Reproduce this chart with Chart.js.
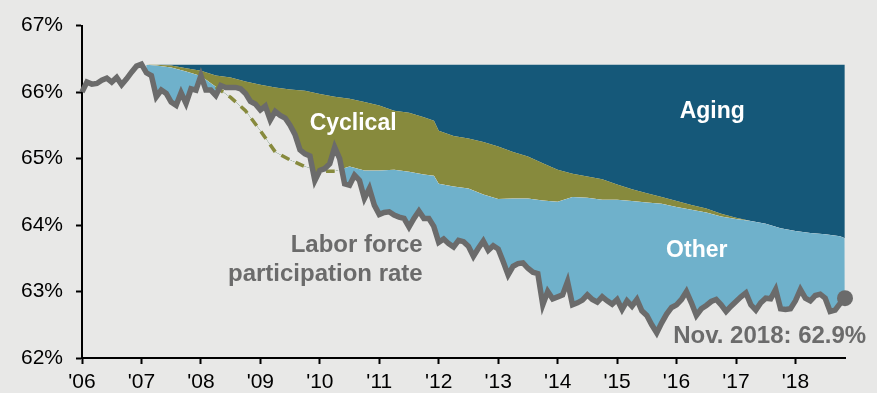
<!DOCTYPE html>
<html>
<head>
<meta charset="utf-8">
<script src="https://cdn.jsdelivr.net/npm/chart.js@4"></script>
<style>
  html, body { margin: 0; padding: 0; background: #e8e8e7; }
</style>
</head>
<body>
<canvas id="lfpr" width="877" height="393"></canvas>
<script>
// Labor force participation rate (%), monthly, Jan 2006 - Nov 2018
const participation = [
  66.0, 66.15, 66.12, 66.13, 66.18, 66.21, 66.15, 66.22, 66.11, 66.2, 66.3, 66.39,   // 2006
  66.42, 66.29, 66.25, 65.93, 66.03, 65.98, 65.85, 65.8, 65.99, 65.83, 66.05, 66.03, // 2007
  66.25, 66.03, 66.03, 65.95, 66.1, 66.07, 66.07, 66.07, 66.05, 65.98, 65.86, 65.82, // 2008
  65.73, 65.79, 65.58, 65.71, 65.65, 65.61, 65.5, 65.36, 65.13, 65.07, 65.04, 64.67, // 2009
  64.82, 64.85, 64.92, 65.17, 65.0, 64.62, 64.6, 64.75, 64.67, 64.4, 64.55, 64.3,    // 2010
  64.16, 64.19, 64.2, 64.15, 64.12, 64.1, 63.97, 64.1, 64.21, 64.1, 64.1, 63.98,     // 2011
  63.74, 63.79, 63.72, 63.67, 63.77, 63.75, 63.68, 63.53, 63.65, 63.76, 63.62, 63.69, // 2012
  63.64, 63.45, 63.25, 63.38, 63.42, 63.43, 63.35, 63.29, 63.27, 62.8, 63.0, 62.89,  // 2013
  62.92, 62.95, 63.15, 62.8, 62.83, 62.87, 62.95, 62.88, 62.84, 62.92, 62.86, 62.81, // 2014
  62.88, 62.73, 62.86, 62.78, 62.88, 62.71, 62.64, 62.5, 62.38, 62.53, 62.66, 62.76, // 2015
  62.8, 62.88, 63.0, 62.83, 62.64, 62.74, 62.79, 62.85, 62.88, 62.8, 62.7, 62.78,    // 2016
  62.85, 62.92, 62.98, 62.8, 62.72, 62.83, 62.9, 62.89, 63.03, 62.74, 62.73, 62.74,  // 2017
  62.86, 63.03, 62.9, 62.86, 62.94, 62.96, 62.9, 62.7, 62.72, 62.82, 62.9            // 2018
];

// pre-recession rate that the decomposition starts from
const baseline = 66.41;

// dates (decimal years) for the decomposition edges
const edgeDates = [
  2007.08, 2007.25, 2007.5, 2007.75, 2008.0, 2008.25, 2008.5, 2008.75,
  2009.0, 2009.25, 2009.5, 2009.75, 2010.0, 2010.25, 2010.5, 2010.75,
  2011.0, 2011.25, 2011.5, 2011.75, 2011.92, 2012.0, 2012.25, 2012.5, 2012.75,
  2013.0, 2013.25, 2013.5, 2013.75, 2014.0, 2014.25, 2014.5, 2014.75,
  2015.0, 2015.25, 2015.5, 2015.75, 2016.0, 2016.25, 2016.5, 2016.75,
  2017.0, 2017.25, 2017.5, 2017.75, 2018.0, 2018.25, 2018.5, 2018.75, 2018.83
];
// rate after the aging effect
const agingEdge = [
  66.41, 66.41, 66.40, 66.36, 66.32, 66.25, 66.22, 66.16,
  66.11, 66.07, 66.04, 66.02, 65.97, 65.93, 65.90, 65.85,
  65.80, 65.72, 65.69, 65.62, 65.57, 65.42, 65.34, 65.30, 65.25,
  65.18, 65.10, 65.03, 64.93, 64.83, 64.77, 64.73, 64.69,
  64.61, 64.54, 64.48, 64.42, 64.36, 64.30, 64.25, 64.17,
  64.11, 64.06, 64.02, 63.95, 63.91, 63.88, 63.86, 63.83, 63.80
];
// rate after aging + cyclical effects
const cyclicalEdge = [
  66.41, 66.40, 66.37, 66.31, 66.24, 66.08, 65.92, 65.72,
  65.42, 65.10, 64.98, 64.88, 64.81, 64.81, 64.88, 64.82,
  64.82, 64.83, 64.80, 64.76, 64.74, 64.62, 64.58, 64.55, 64.46,
  64.39, 64.40, 64.40, 64.37, 64.35, 64.42, 64.41, 64.38,
  64.38, 64.36, 64.34, 64.32, 64.27, 64.23, 64.19, 64.13,
  64.09, 64.06, 64.02, 63.95, 63.91, 63.88, 63.86, 63.83, 63.80
];

const yearLabels = ["'06", "'07", "'08", "'09", "'10", "'11", "'12", "'13", "'14", "'15", "'16", "'17", "'18"];
const pctLabels = ['62%', '63%', '64%', '65%', '66%', '67%'];

const bg = '#e8e8e7';
const navy = '#155879';
const olive = '#878a3d';
const skyBlue = '#6fb1cb';
const gray = '#6b6b6b';

// stretch of the cyclical edge shown as a dashed line
const dashFrom = 2008.25, dashTo = 2010.25;

const lfprPoints = participation.map((v, i) => ({ x: 2006 + i / 12, y: v }));
const lastIdx = lfprPoints.length - 1;
const cyclicalPoints = edgeDates.map((d, i) => ({ x: d, y: cyclicalEdge[i] }));

const textLabels = {
  id: 'textLabels',
  afterDatasetsDraw(chart) {
    const { ctx, scales: { x, y } } = chart;
    const put = (txt, xv, yv, color, align) => {
      ctx.fillStyle = color;
      ctx.textAlign = align;
      ctx.fillText(txt, x.getPixelForValue(xv), y.getPixelForValue(yv));
    };
    ctx.save();
    ctx.font = 'bold 23px "Liberation Sans", Arial, sans-serif';
    ctx.textBaseline = 'middle';
    put('Aging', 2016.6, 65.70, '#fff', 'center');
    put('Cyclical', 2010.56, 65.52, '#fff', 'center');
    put('Other', 2016.34, 63.62, '#fff', 'center');
    ctx.font = 'bold 24px "Liberation Sans", Arial, sans-serif';
    put('Labor force', 2011.73, 63.69, gray, 'right');
    put('participation rate', 2011.73, 63.26, gray, 'right');
    put('Nov. 2018: 62.9%', 2019.19, 62.33, gray, 'right');
    ctx.restore();
  }
};

new Chart(document.getElementById('lfpr'), {
  type: 'line',
  data: {
    datasets: [
      {
        // aging slice: from the baseline down to the aging edge
        data: edgeDates.map(d => ({ x: d, y: baseline })),
        fill: 1,
        backgroundColor: navy,
        borderWidth: 0,
        pointRadius: 0,
        order: 5
      },
      {
        // cyclical slice
        data: edgeDates.map((d, i) => ({ x: d, y: agingEdge[i] })),
        fill: 2,
        backgroundColor: olive,
        borderWidth: 0,
        pointRadius: 0,
        order: 4
      },
      {
        // cyclical edge, only used as a fill boundary
        data: cyclicalPoints,
        fill: false,
        borderWidth: 0,
        pointRadius: 0,
        order: 3
      },
      {
        // dashed part of the cyclical edge
        data: cyclicalPoints.filter(p => p.x >= dashFrom && p.x <= dashTo),
        fill: false,
        borderWidth: 3.5,
        borderDash: [9, 7],
        borderColor: olive,
        pointRadius: 0,
        order: 2
      },
      {
        // actual rate, light blue where it sits below the cyclical edge
        data: lfprPoints,
        fill: { target: 2, above: bg, below: skyBlue },
        borderColor: gray,
        borderWidth: 5.5,
        backgroundColor: gray,
        pointRadius: c => c.dataIndex === lastIdx ? 8 : 0,
        pointBackgroundColor: gray,
        pointBorderWidth: 0,
        clip: false,
        order: 1
      }
    ]
  },
  options: {
    responsive: false,
    devicePixelRatio: 1,
    animation: false,
    layout: { padding: { top: 19, right: 32, left: 0, bottom: 0 } },
    plugins: {
      legend: { display: false },
      tooltip: { enabled: false },
      filler: { drawTime: 'beforeDatasetsDraw' }
    },
    scales: {
      x: {
        type: 'linear',
        min: 2006,
        max: 2006 + lastIdx / 12,
        afterFit: s => { s.height = 35; },
        afterBuildTicks: s => { s.ticks = yearLabels.map((_, i) => ({ value: 2006 + i })); },
        ticks: {
          autoSkip: false,
          maxRotation: 0,
          padding: 6,
          color: '#000',
          font: { family: '"Liberation Sans", Arial, sans-serif', size: 21 },
          callback: v => yearLabels[v - 2006]
        },
        grid: { drawOnChartArea: false, drawTicks: true, tickLength: 6, tickColor: '#000', tickWidth: 2 },
        border: { display: true, color: '#000', width: 2 }
      },
      y: {
        min: 62,
        max: 67,
        afterFit: s => { s.width = 82; },
        ticks: {
          stepSize: 1,
          padding: 13,
          color: '#000',
          font: { family: '"Liberation Sans", Arial, sans-serif', size: 21 },
          callback: v => pctLabels[v - 62]
        },
        grid: { drawOnChartArea: false, drawTicks: true, tickLength: 6, tickColor: '#000', tickWidth: 2 },
        border: { display: true, color: '#000', width: 2 }
      }
    }
  },
  plugins: [textLabels]
});
</script>
</body>
</html>
